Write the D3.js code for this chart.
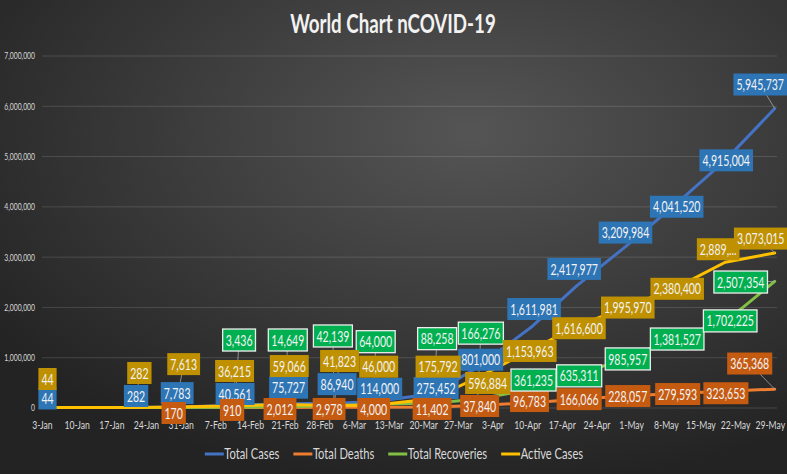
<!DOCTYPE html>
<html><head><meta charset="utf-8">
<script src="https://cdn.jsdelivr.net/npm/d3@7"></script>
<style>html,body{margin:0;padding:0;background:#2b2b2b;} svg{display:block;}</style>
</head><body><svg id="c" width="787" height="474"></svg>
<script>
// ---- data ----
const dates = ["2020-01-03","2020-01-22","2020-01-30","2020-02-11","2020-02-21","2020-03-02","2020-03-10","2020-03-22","2020-03-31","2020-04-11","2020-04-20","2020-04-30","2020-05-10","2020-05-20","2020-05-30"];
const totalCases = [44,282,7783,40561,75727,86940,114000,275452,801000,1611981,2417977,3209984,4041520,4915004,5945737];
const totalDeaths = [0,0,170,910,2012,2978,4000,11402,37840,96783,166066,228057,279593,323653,365368];
const totalRecoveries = [0,0,0,3436,14649,42139,64000,88258,166276,361235,635311,985957,1381527,1702225,2507354];
const activeCases = [44,282,7613,36215,59066,41823,46000,175792,596884,1153963,1616600,1995970,2380400,2889126,3073015];
const seriesNames = ["Total Cases","Total Deaths","Total Recoveries","Active Cases"];
const yTickValues = [0,1000000,2000000,3000000,4000000,5000000,6000000,7000000];
const firstTick = "2020-01-03", tickCount = 22;
const truncatedLabels = [{series:3, index:13, text:"2,889,..."}];

// ---- label nudges (px offsets from each point, as placed in the original) ----
const nudgeCases = [[5.5,-9],[0,-11.5],[1.5,-14],[0,-11.5],[4,-16],[3,-19],[6,-13],[3,-5.6],[3,-7.5],[2,-17.4],[-2.5,-17],[-0.7,-13.5],[1,2.5],[1,0],[-14.5,-24]];
const nudgeDeaths = [null,null,[-2,5.5],[-3,2.5],[-4.6,1.6],[-5,1.6],[0,1.7],[-1,2],[2,0.4],[-2.6,-1.6],[2.5,0],[1.6,0],[2,0.6],[0.7,2],[-25,-25.6]];
const nudgeRecov = [null,null,null,[4,-67.3],[3.2,-66.8],[-1.2,-69.4],[2,-62.6],[4,-64.4],[3.2,-66],[1.4,-9.3],[2.5,0.3],[1.6,1],[1.5,1],[5,-1],[-34,0.6]];
const nudgeActive = [[5.5,-28.5],[3.3,-34.5],[8,-43],[-0.5,-34.7],[4.7,-38.5],[5.5,-44.4],[5,-38.5],[5,-32],[10,5.5],[-2.3,1.5],[2.3,2],[1.6,0.4],[1.5,1],[-7,-13],[-14,-14.4]];

// ---- styles ----
const lineColors = ["#4472C4","#ED7D31","#82C045","#FFC000"];
const boxColors = ["#2E75B6","#C55A11","#00B050","#BF9000"];
const FONT = "Lato, 'Open Sans', sans-serif";
const SX = 0.68;

const svg = d3.select("#c");
const W = 787, H = 474;
const parse = d3.timeParse("%Y-%m-%d");
const dts = dates.map(parse);

// background
const defs = svg.append("defs");
const rg = defs.append("radialGradient").attr("id","bg").attr("cx","60%").attr("cy","28%").attr("r","75%")
  .attr("fx","60%").attr("fy","28%");
rg.append("stop").attr("offset","0%").attr("stop-color","#555555");
rg.append("stop").attr("offset","100%").attr("stop-color","#232323");
svg.append("rect").attr("width",W).attr("height",H).attr("fill","url(#bg)");

const x = d3.scaleTime().domain(d3.extent(dts)).range([42, 774.7]);
const y = d3.scaleLinear().domain([0, 7000000]).range([407.5, 55.5]);
const plotRight = 777;

// gridlines + y labels
const gy = svg.append("g").attr("transform","translate(42,0)")
  .call(d3.axisLeft(y).tickValues(yTickValues).tickSize(-(plotRight-42)).tickFormat(d3.format(",")));
gy.select(".domain").remove();
gy.selectAll("line").attr("stroke","rgba(255,255,255,0.14)").attr("stroke-width",1);
gy.selectAll("text").attr("x",null).attr("dy","0.34em")
  .attr("transform",`translate(-7,0) scale(${SX},1)`)
  .attr("fill","#d9d9d9").style("font-family",FONT).style("font-size","10px");

// x axis
const tickDates = d3.range(tickCount).map(i => d3.timeDay.offset(parse(firstTick), 7*i));
const gx = svg.append("g").attr("transform","translate(0,407.5)")
  .call(d3.axisBottom(x).tickValues(tickDates).tickSize(0).tickFormat(d3.timeFormat("%-d-%b")));
gx.select(".domain").remove();
gx.selectAll("text").attr("y",null).attr("dy",null)
  .attr("transform",`translate(0,21.5) scale(0.72,1)`)
  .attr("fill","#d9d9d9").style("font-family",FONT).style("font-size","12px");

// title
svg.append("text").attr("transform",`translate(393,33) scale(0.72,1)`).attr("text-anchor","middle")
  .attr("fill","#f2f2f2").style("font-family",FONT).style("font-weight","bold").style("font-size","26px")
  .text("World Chart nCOVID-19");

// lines
const allSeries = [totalCases,totalDeaths,totalRecoveries,activeCases];
const nudges = [nudgeCases,nudgeDeaths,nudgeRecov,nudgeActive];
const line = d3.line().x((d,i)=>x(dts[i])).y(d=>y(d));
allSeries.forEach((s,k)=>{
  svg.append("path").datum(s).attr("d",line).attr("fill","none")
    .attr("stroke",lineColors[k]).attr("stroke-width",3).attr("stroke-linejoin","round").attr("stroke-linecap","round");
});

// leader lines
const fmt = d3.format(",");
const leaders = svg.append("g");
allSeries.forEach((s,k)=>{
  s.forEach((v,i)=>{
    const n = nudges[k][i]; if(!n) return;
    if (Math.hypot(n[0],n[1]) < 20) return;
    leaders.append("line").attr("x1",x(dts[i])).attr("y1",y(v))
      .attr("x2",x(dts[i])+n[0]).attr("y2",y(v)+n[1])
      .attr("stroke","#a6a6a6").attr("stroke-width",0.8);
  });
});

// labels
allSeries.forEach((s,k)=>{
  const g = svg.append("g");
  s.forEach((v,i)=>{
    const n = nudges[k][i]; if(!n) return;
    const cx = x(dts[i]) + n[0], cy = y(v) + n[1];
    const tr = truncatedLabels.find(t=>t.series===k && t.index===i);
    const str = tr ? tr.text : fmt(v);
    const lg = g.append("g").attr("transform",`translate(${cx},${cy})`);
    const rect = lg.append("rect");
    const t = lg.append("text").attr("text-anchor","middle").attr("dy","0.36em")
      .attr("transform",`scale(${SX},1)`).attr("fill","#f2f2f2")
      .style("font-family",FONT).style("font-size","15.5px").text(str);
    const w = t.node().getComputedTextLength()*SX + 6;
    rect.attr("x",-w/2).attr("y",-11).attr("width",w).attr("height",22).attr("fill",boxColors[k]);
    if (k===2) rect.attr("stroke","#ededed").attr("stroke-width",1.3);
  });
});

// legend
const lgd = svg.append("g");
let lx = 0;
seriesNames.forEach((nm,k)=>{
  const it = lgd.append("g").attr("transform",`translate(${lx},0)`);
  it.append("line").attr("x1",0).attr("x2",19).attr("y1",0).attr("y2",0).attr("stroke",lineColors[k]).attr("stroke-width",3);
  const t = it.append("text").attr("transform",`translate(19.5,0) scale(0.77,1)`).attr("dy","0.35em")
    .attr("fill","#d9d9d9").style("font-family",FONT).style("font-size","14.5px").text(nm);
  const w = 19.5 + t.node().getComputedTextLength()*0.77;
  lx += w + 14;
});
const totalW = lx - 14;
lgd.attr("transform",`translate(${394 - totalW/2},454)`);
</script></body></html>
